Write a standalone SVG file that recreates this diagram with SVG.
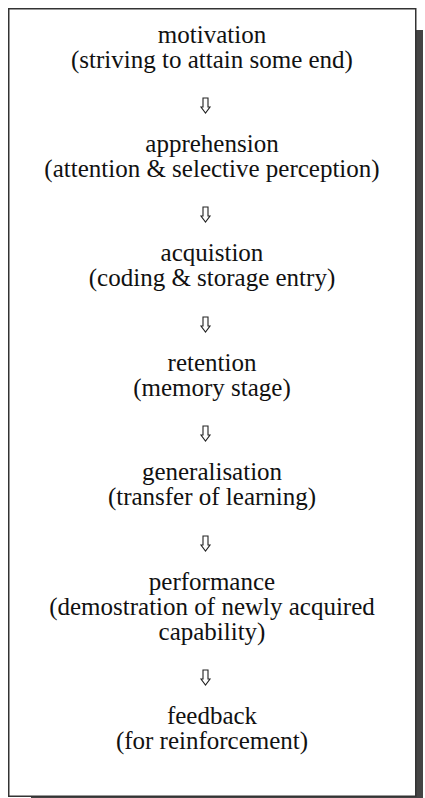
<svg xmlns="http://www.w3.org/2000/svg" width="425" height="798" viewBox="0 0 425 798">
<defs>
<path id="arr" d="M-2.5,-7.5 H2.5 V1.5 H4.5 L0,7.5 L-4.5,1.5 H-2.5 Z"/>
</defs>
<style>
.t{font-family:"Liberation Serif","Times New Roman",serif;font-size:25px;fill:#111;text-anchor:middle}
.a{fill:#fff;stroke:#222;stroke-width:1.1;stroke-linejoin:miter}
</style>
<rect x="31" y="30" width="392" height="780" fill="#444"/>
<rect x="8.75" y="8.75" width="407" height="787.5" fill="#fff" stroke="#333" stroke-width="1.5"/>
<g id="motivation"><text class="t" x="212" y="43">motivation</text><text class="t" x="212" y="68">(striving to attain some end)</text></g>
<g id="apprehension"><text class="t" x="212" y="152">apprehension</text><text class="t" x="212" y="177">(attention &amp; selective perception)</text></g>
<g id="acquistion"><text class="t" x="212" y="261">acquistion</text><text class="t" x="212" y="286">(coding &amp; storage entry)</text></g>
<g id="retention"><text class="t" x="212" y="371">retention</text><text class="t" x="212" y="396">(memory stage)</text></g>
<g id="generalisation"><text class="t" x="212" y="480">generalisation</text><text class="t" x="212" y="505">(transfer of learning)</text></g>
<g id="performance"><text class="t" x="212" y="590">performance</text><text class="t" x="212" y="615">(demostration of newly acquired</text><text class="t" x="212" y="640">capability)</text></g>
<g id="feedback"><text class="t" x="212" y="724">feedback</text><text class="t" x="212" y="749">(for reinforcement)</text></g>
<g id="connectors">
<use href="#arr" class="a" x="205.5" y="105.5"/>
<use href="#arr" class="a" x="205.5" y="214.5"/>
<use href="#arr" class="a" x="205.5" y="324.5"/>
<use href="#arr" class="a" x="205.5" y="433.5"/>
<use href="#arr" class="a" x="205.5" y="543.5"/>
<use href="#arr" class="a" x="205.5" y="677.5"/>
</g>
</svg>
